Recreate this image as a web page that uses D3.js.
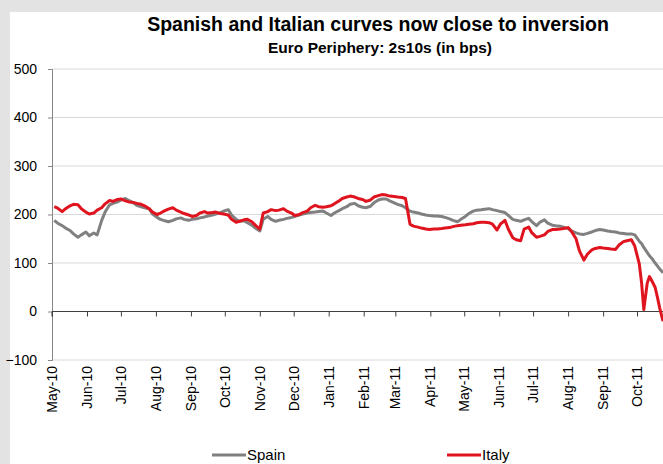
<!DOCTYPE html>
<html>
<head>
<meta charset="utf-8">
<script src="https://cdn.jsdelivr.net/npm/d3@7"></script>
<style>
  body { margin: 0; background: #fff; }
  svg { display: block; }
  text { font-family: "Liberation Sans", Arial, sans-serif; fill: #000; }
</style>
</head>
<body>
<svg id="chart" width="663" height="464"></svg>
<script>
// Twice-weekly observations (plus extra days through the October sell-off)
const dates = [
  "2010-05-03","2010-05-06","2010-05-10","2010-05-13","2010-05-17","2010-05-20","2010-05-24","2010-05-27",
  "2010-05-31","2010-06-03","2010-06-07","2010-06-10","2010-06-14","2010-06-17","2010-06-21","2010-06-24",
  "2010-06-28","2010-07-01","2010-07-05","2010-07-08","2010-07-12","2010-07-15","2010-07-19","2010-07-22",
  "2010-07-26","2010-07-29","2010-08-02","2010-08-05","2010-08-09","2010-08-12","2010-08-16","2010-08-19",
  "2010-08-23","2010-08-26","2010-08-30","2010-09-02","2010-09-06","2010-09-09","2010-09-13","2010-09-16",
  "2010-09-20","2010-09-23","2010-09-27","2010-09-30","2010-10-04","2010-10-07","2010-10-11","2010-10-14",
  "2010-10-18","2010-10-21","2010-10-25","2010-10-28","2010-11-01","2010-11-04","2010-11-08","2010-11-11",
  "2010-11-15","2010-11-18","2010-11-22","2010-11-25","2010-11-29","2010-12-02","2010-12-06","2010-12-09",
  "2010-12-13","2010-12-16","2010-12-20","2010-12-23","2010-12-27","2010-12-30","2011-01-03","2011-01-06",
  "2011-01-10","2011-01-13","2011-01-17","2011-01-20","2011-01-24","2011-01-27","2011-01-31","2011-02-03",
  "2011-02-07","2011-02-10","2011-02-14","2011-02-17","2011-02-21","2011-02-24","2011-02-28","2011-03-03",
  "2011-03-07","2011-03-10","2011-03-14","2011-03-17","2011-03-21","2011-03-24","2011-03-28","2011-03-31",
  "2011-04-04","2011-04-07","2011-04-11","2011-04-14","2011-04-18","2011-04-21","2011-04-25","2011-04-28",
  "2011-05-02","2011-05-05","2011-05-09","2011-05-12","2011-05-16","2011-05-19","2011-05-23","2011-05-26",
  "2011-05-30","2011-06-02","2011-06-06","2011-06-09","2011-06-13","2011-06-16","2011-06-20","2011-06-23",
  "2011-06-27","2011-06-30","2011-07-04","2011-07-07","2011-07-11","2011-07-14","2011-07-18","2011-07-21",
  "2011-07-25","2011-07-28","2011-08-01","2011-08-04","2011-08-08","2011-08-11","2011-08-15","2011-08-18",
  "2011-08-22","2011-08-25","2011-08-29","2011-09-01","2011-09-05","2011-09-08","2011-09-12","2011-09-15",
  "2011-09-19","2011-09-22","2011-09-26","2011-09-29","2011-10-03","2011-10-05","2011-10-07","2011-10-10",
  "2011-10-12","2011-10-14","2011-10-17","2011-10-19","2011-10-21","2011-10-24"
];

// 2s10s spread, bps
const spain = [
  188,182,177,172,167,160,153,158,
  164,156,162,158,188,205,220,223,
  226,230,233,229,224,219,216,214,
  212,201,194,190,187,185,188,191,
  193,190,188,190,191,193,195,197,
  199,201,204,207,210,199,190,186,
  187,183,178,172,166,190,196,190,
  186,188,190,192,194,196,199,201,
  203,204,205,206,207,203,198,203,
  208,212,216,221,223,218,215,214,
  217,224,230,232,232,228,224,221,
  218,214,207,205,203,201,199,198,
  197,197,196,194,191,188,185,190,
  196,202,207,209,210,211,212,210,
  208,206,204,198,190,188,186,189,
  192,185,177,184,189,182,178,177,
  176,174,171,166,162,160,159,161,
  164,167,169,168,166,165,164,162,
  161,160,160,158,145,140,132,122,
  115,110,100,94,88,80
];

const italy = [
  216,213,206,212,218,221,220,212,
  205,201,203,209,214,222,229,227,
  231,232,228,226,225,223,221,218,
  212,205,200,203,208,211,214,209,
  205,202,199,196,198,203,206,203,
  204,205,202,201,199,190,184,186,
  189,190,185,178,170,203,206,210,
  208,209,212,207,203,198,200,204,
  207,214,219,216,215,216,218,222,
  228,233,236,238,236,233,231,227,
  230,236,239,241,240,238,237,236,
  235,233,180,176,174,172,170,169,
  170,170,171,172,173,175,177,178,
  179,180,181,183,184,184,183,180,
  168,180,188,170,152,148,146,170,
  174,162,153,155,158,165,169,169,
  170,171,173,165,150,125,106,118,
  127,130,132,131,130,129,128,137,
  144,146,148,135,98,60,4,58,
  72,64,50,30,8,-20
];

const yTicks = [-100, 0, 100, 200, 300, 400, 500];
const gridValues = [-100, 100, 200, 300, 400, 500];
const seriesNames = ["Spain", "Italy"];
const seriesColors = ["#808080", "#e0141e"];

const W = 663, H = 464;
const plot = { left: 52, right: 663, top: 69, bottom: 360 };

const svg = d3.select("#chart");
const parse = d3.timeParse("%Y-%m-%d");

// grey frame around a white panel
svg.append("rect").attr("width", W).attr("height", H).attr("fill", "#e3e3e3");
svg.append("rect").attr("x", 10).attr("y", 12).attr("width", W - 10).attr("height", H - 12).attr("fill", "#fff");

const x = d3.scaleTime()
  .domain([parse("2010-05-01"), parse("2011-10-24")])
  .range([plot.left, plot.right]);
const y = d3.scaleLinear().domain([-100, 500]).range([plot.bottom, plot.top]);

// horizontal gridlines
svg.append("g").selectAll("line").data(gridValues).join("line")
  .attr("x1", plot.left).attr("x2", plot.right)
  .attr("y1", d => y(d)).attr("y2", d => y(d))
  .attr("stroke", "#d9d9d9").attr("stroke-width", 1);

// y axis
const yAxis = svg.append("g")
  .attr("transform", `translate(${plot.left},0)`)
  .call(d3.axisLeft(y).tickValues(yTicks).tickSize(4).tickPadding(11).tickFormat(d3.format("d")));
yAxis.select(".domain").attr("stroke", "#868686");
yAxis.selectAll(".tick line").attr("stroke", "#868686");
yAxis.selectAll("text").attr("font-size", 14).attr("font-family", "Liberation Sans, Arial, sans-serif");

// month ticks on the zero line
const months = d3.timeMonth.range(parse("2010-05-01"), parse("2011-10-02"));
const zeroAxis = svg.append("g")
  .attr("transform", `translate(0,${y(0)})`)
  .call(d3.axisBottom(x).tickValues(months).tickSize(5).tickFormat(""));
zeroAxis.select(".domain").attr("stroke", "#404040").attr("d", `M${plot.left},5V0H${plot.right}`);
zeroAxis.selectAll(".tick line").attr("stroke", "#404040");

// month labels below the plot
const fmt = d3.timeFormat("%b-%y");
svg.append("g").selectAll("text").data(months).join("text")
  .attr("transform", d => `translate(${x(d)},${plot.bottom + 6}) rotate(-90)`)
  .attr("text-anchor", "end")
  .attr("dy", "0.35em")
  .attr("font-size", 14)
  .text(d => fmt(d));

// series lines
const rows = dates.map((d, i) => ({ date: parse(d), values: [spain[i], italy[i]] }));
const line = k => d3.line().x(d => x(d.date)).y(d => y(d.values[k]));
[0, 1].forEach(k => {
  svg.append("path").datum(rows)
    .attr("fill", "none")
    .attr("stroke", seriesColors[k])
    .attr("stroke-width", 3)
    .attr("stroke-linejoin", "round")
    .attr("d", line(k));
});

// titles
svg.append("text").attr("x", 378).attr("y", 31).attr("text-anchor", "middle")
  .attr("font-size", 19.5).attr("font-weight", "bold")
  .text("Spanish and Italian curves now close to inversion");
svg.append("text").attr("x", 380).attr("y", 53).attr("text-anchor", "middle")
  .attr("font-size", 15.5).attr("font-weight", "bold")
  .text("Euro Periphery: 2s10s (in bps)");

// legend
const legendPos = [212, 447];
const lg = svg.append("g").selectAll("g").data(seriesNames).join("g")
  .attr("transform", (d, i) => `translate(${legendPos[i]},455)`);
lg.append("line").attr("x1", 0).attr("x2", 34).attr("y1", 0).attr("y2", 0)
  .attr("stroke", (d, i) => seriesColors[i]).attr("stroke-width", 3);
lg.append("text").attr("x", 35).attr("dy", "0.35em").attr("font-size", 15).text(d => d);
</script>
</body>
</html>
